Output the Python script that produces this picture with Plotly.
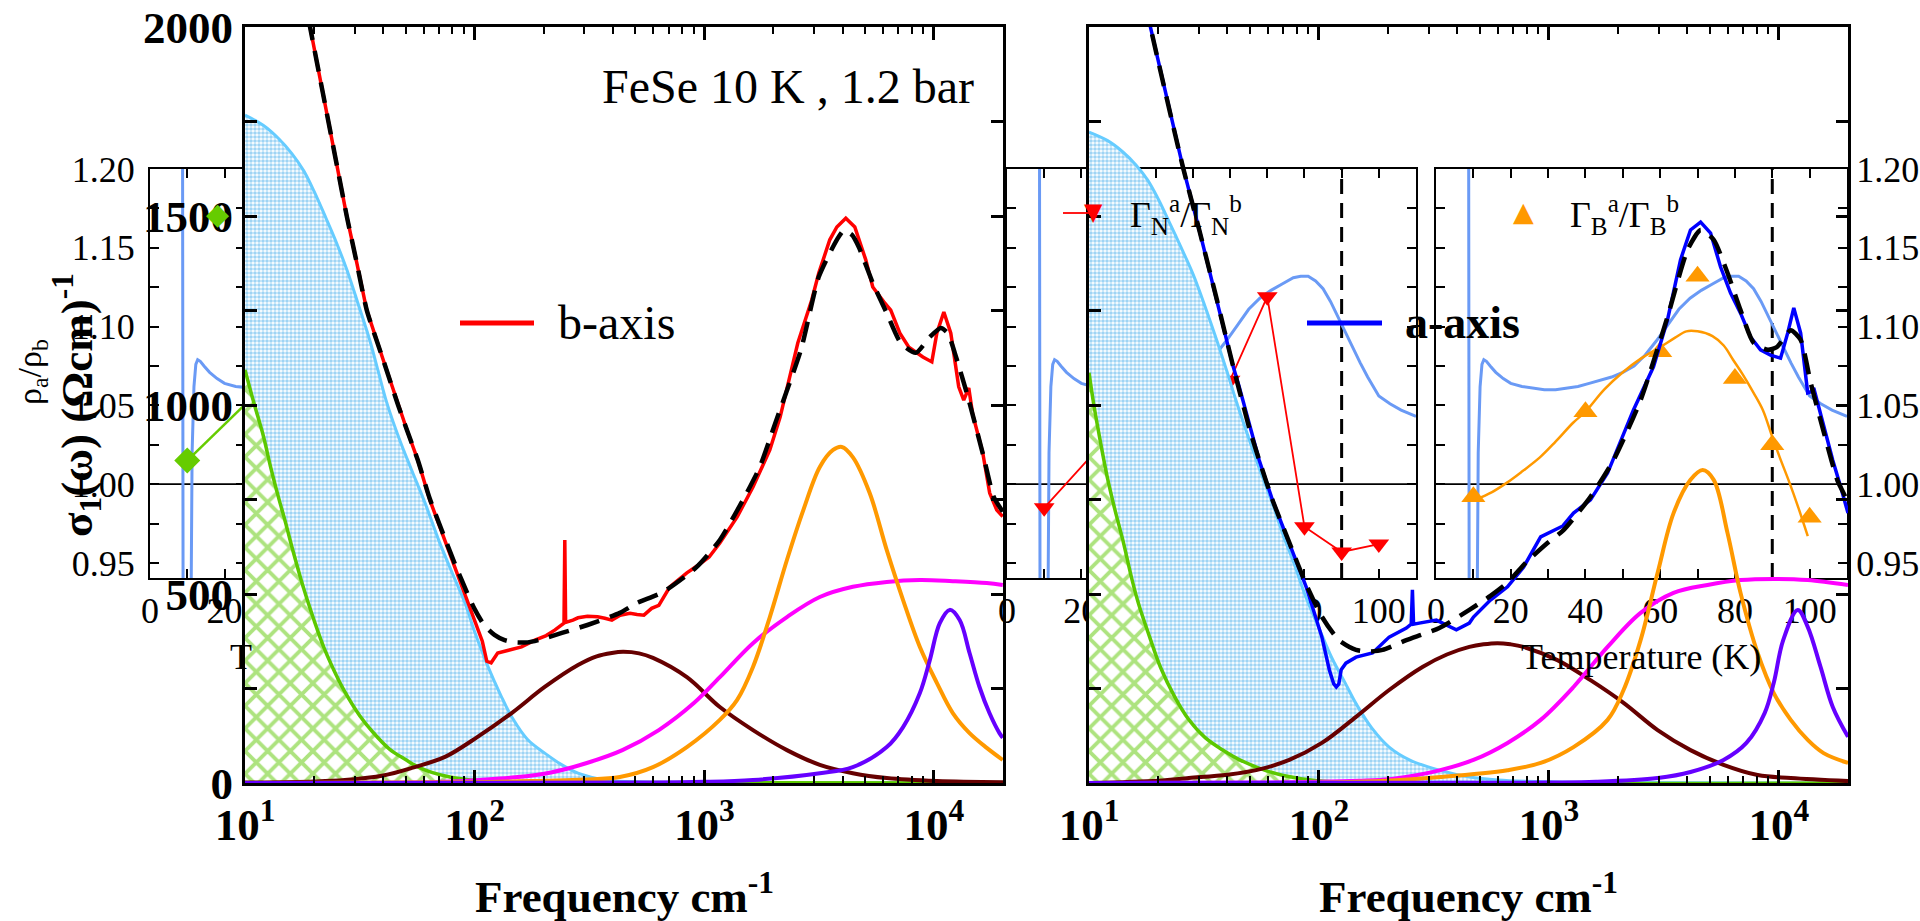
import plotly.graph_objects as go

W, H = 1920, 921
SERIF = "Liberation Serif"

# ---------------- data: left panel (b-axis) ----------------
b_axis_data = [(17.8,2103),(19.2,2000),(22,1815),(25,1641),(27.8,1497),(30.5,1383),(33.9,1251),(40,1119),(46.4,1000),(51,930),(56.6,854),(63.8,749),(72,663),(82,570),(92.5,484),(100,428),(108,375),(113,322),(118,318),(126,344),(145,352),(160,360),(183,378),(205,390),(224,405),(240,418),(245,423),(247,643),(249,425),(268,431),(282,437),(310,441),(343,440),(369,436),(396,431),(430,444),(475,449),(510,446),(546,444),(590,462),(634,470),(708,519),(840,556),(950,578),(1050,598),(1169,635),(1391,704),(1630,783),(1930,881),(2140,968),(2555,1164),(2938,1278),(3153,1349),(3521,1437),(3779,1471),(4134,1494),(4525,1471),(5051,1384),(5418,1312),(6053,1273),(6489,1251),(7110,1190),(7780,1153),(8955,1127),(9796,1114),(10300,1190),(11050,1246),(11850,1190),(12830,1048),(13490,1013),(14190,1045),(14760,975),(15220,942),(16330,873),(17500,767),(18790,722),(19950,705)]
b_axis_fit = [(17.8,2103),(19.2,2000),(22,1815),(25,1641),(27.8,1497),(30.5,1383),(33.9,1251),(40,1119),(46.4,1000),(51,930),(56.6,854),(63.8,752),(72,668),(82,580),(92.5,505),(100,460),(110,418),(122,392),(135,378),(150,372),(170,372),(195,380),(240,397),(310,418),(429,450),(508,476),(660,505),(925,571),(1169,643),(1475,749),(1745,836),(2060,960),(2636,1146),(3153,1339),(3779,1437),(4055,1462),(4400,1450),(4709,1418),(5418,1323),(6235,1243),(7176,1164),(8340,1138),(9600,1180),(10720,1204),(11500,1190),(12330,1138),(14190,1013),(16480,862),(18220,757),(19950,718)]
b_drude_narrow = [(10,1093),(11,1000),(12,920),(13,830),(14,755),(15,690),(16,625),(18,515),(20,430),(22,360),(24.1,305),(27,245),(31.6,178),(36,135),(42.7,89),(50,62),(56,44),(65,28),(78,16),(100,7),(130,3),(200,1),(20000,0)]
b_drude_broad = [(10,1767),(12,1740),(14,1705),(16,1665),(18,1620),(20,1565),(22.5,1495),(25,1430),(27.8,1357),(31,1270),(35,1170),(38,1090),(41.5,1005),(47,910),(53,830),(60.8,741),(70,640),(80,555),(90.8,476),(100,400),(114,310),(130,232),(145,175),(170,115),(202,79),(240,48),(282,26),(340,12),(400,5),(600,2),(1000,1),(20000,0)]
b_brown = [(10,1),(20,4),(27.2,8),(40,20),(53.3,40),(74.3,69),(103,122),(145,185),(202,254),(282,312),(340,335),(396,344),(443,347),(520,343),(598,331),(840,280),(1169,201),(1630,140),(2291,87),(3186,48),(4434,26),(6235,13),(10300,5),(20000,2)]
b_magenta = [(10,0),(50,1),(80,4),(105,8),(150,15),(215,28),(308,53),(440,87),(634,140),(904,212),(1169,280),(1630,370),(2291,439),(3186,492),(4434,519),(6235,532),(8690,537),(12090,534),(16990,529),(19950,524)]
b_orange = [(10,0),(100,2),(200,6),(300,9),(429,16),(598,42),(840,95),(1169,167),(1391,220),(1630,307),(1930,439),(2291,590),(2700,722),(3186,836),(3640,881),(3972,889),(4434,862),(5252,767),(6235,616),(7343,484),(8690,360),(10300,265),(12090,185),(14300,132),(16990,93),(19950,61)]
b_purple = [(10,0),(500,1),(1000,3),(1630,8),(3186,26),(4434,42),(6235,95),(7343,148),(8690,238),(9600,325),(10610,423),(11720,458),(12950,431),(14300,344),(15800,254),(17460,185),(19300,132),(19950,120)]

# ---------------- data: right panel (a-axis) ----------------
a_axis_data = [(17.5,2063),(18.5,2000),(21,1853),(25.6,1630),(30.4,1455),(33.3,1357),(36,1278),(42.4,1101),(45,1048),(55,854),(62.7,750),(75,630),(88,519),(103,386),(111,299),(116,262),(119,254),(122,262),(125,300),(131,317),(145,333),(171,344),(202,386),(240,410),(252,420),(255,511),(258,420),(273,423),(324,431),(396,405),(451,423),(470,439),(557,484),(661,519),(776,571),(921,651),(1048,669),(1150,680),(1280,714),(1517,749),(1800,820),(2113,926),(2333,987),(2851,1101),(3280,1225),(3737,1384),(4130,1463),(4571,1484),(5051,1455),(5582,1365),(6169,1296),(6818,1243),(7535,1180),(8328,1146),(9204,1132),(10180,1124),(10930,1190),(11620,1257),(12450,1190),(13360,1032),(13800,1035),(14190,1045),(15660,942),(17170,854),(18590,783),(20000,714)]
a_axis_fit = [(17.5,2063),(18.5,2000),(21,1853),(25.6,1630),(30.4,1455),(36,1278),(42.4,1101),(50,935),(55,854),(62.7,750),(75,630),(88,525),(103,440),(122,378),(145,352),(165,348),(189,352),(240,378),(334,410),(451,458),(557,495),(661,530),(800,585),(986,635),(1158,669),(1517,757),(1910,854),(2506,1013),(3280,1233),(4009,1410),(4571,1463),(5212,1437),(5986,1349),(6818,1251),(7780,1164),(8955,1146),(9800,1153),(11270,1198),(12450,1172),(13770,1058),(15660,930),(17000,850),(18000,800),(19200,765),(20000,740)]
a_drude_narrow = [(10,1085),(10.5,1000),(11,930),(12,810),(13,720),(14,645),(15.5,530),(16.5,470),(18.5,380),(20.5,305),(23.5,230),(27,170),(32,120),(38,88),(45,62),(58,34),(70,20),(98,6),(150,1),(20000,0)]
a_drude_broad = [(10,1722),(12,1700),(14,1670),(16,1635),(18,1595),(20,1545),(22.5,1480),(25,1420),(28.4,1345),(32,1260),(36,1170),(40,1085),(43.7,1010),(50,905),(56,820),(62.7,741),(70,655),(78,580),(88,490),(100,410),(114,330),(130,265),(145,210),(170,145),(202,95),(250,60),(334,34),(451,16),(600,8),(1000,3),(2000,1),(20000,0)]
a_brown = [(10,0),(20,6),(27.2,13),(40,22),(53.3,34),(74.3,61),(103,106),(145,175),(202,246),(282,307),(360,340),(451,360),(520,367),(598,370),(680,367),(776,360),(1089,325),(1517,272),(2113,212),(2972,140),(4130,87),(5750,48),(8090,21),(11270,13),(20000,5)]
a_magenta = [(10,0),(60,1),(100,3),(150,6),(202,10),(250,18),(337,34),(470,61),(661,106),(921,167),(1280,254),(1800,360),(2506,450),(3486,503),(4898,524),(6818,537),(9510,540),(13360,537),(20000,524)]
a_orange = [(10,0),(150,3),(337,16),(661,34),(921,53),(1280,95),(1800,167),(2113,246),(2506,378),(2972,556),(3486,714),(4130,802),(4667,828),(5212,802),(5986,661),(6818,503),(8090,344),(9510,238),(11270,167),(13360,114),(15660,79),(20000,53)]
a_purple = [(10,0),(1000,1),(1607,3),(2972,13),(4130,29),(5750,61),(7230,106),(8680,185),(9510,265),(10450,378),(12090,458),(13360,413),(15190,307),(17170,201),(20000,122)]

# ---------------- data: insets (ratios vs temperature) ----------------
T_rho = [8.7,8.9,10.9,11.3,11.8,12.3,12.8,13.5,14.5,16,18,20,23,26,29,32,35,38,41,44,47,50,53,56,59,62,65,68,71,74,77,79,81,83,85,87,89,91,93,95,97,100,103,106,110]
rho_ratio = [1.30,0.88,0.88,1.02,1.062,1.076,1.079,1.078,1.075,1.071,1.067,1.064,1.062,1.061,1.060,1.060,1.061,1.062,1.064,1.066,1.068,1.071,1.075,1.082,1.091,1.101,1.111,1.118,1.123,1.127,1.131,1.132,1.132,1.129,1.124,1.116,1.106,1.096,1.086,1.077,1.068,1.056,1.051,1.047,1.043]
T_gamma = [10, 40, 60, 70, 80, 90, 100]
gammaN_ratio = [0.985, 1.063, 1.066, 1.119, 0.973, 0.957, 0.962]
gammaB_ratio = [0.992, 1.046, 1.084, 1.132, 1.067, 1.025, 0.979]
T_gammaB_fit = [10.4,15,19,23,27.8,32,36.7,40,45,50,55,60,64,67,70,74,77,79.5,82,85,87.5,90,92,94.6,97,99.5]
gammaB_fit = [0.990,0.995,1.001,1.008,1.017,1.027,1.039,1.046,1.060,1.071,1.080,1.087,1.093,1.097,1.097,1.094,1.088,1.079,1.070,1.058,1.047,1.030,1.017,1.001,0.985,0.967]
T_green = [10, 40]
green_ratio = [1.015, 1.084]
T_nematic = 90
ratio_unity = 1.0

freq_major = [10, 100, 1000, 10000]
freq_major_text = ["10<sup>1</sup>", "10<sup>2</sup>", "10<sup>3</sup>", "10<sup>4</sup>"]
freq_minor = [m * d for d in (10, 100, 1000) for m in range(2, 10)]
sigma_ticks = [0, 250, 500, 750, 1000, 1250, 1500, 1750, 2000]
ratio_ticks = [0.95, 0.975, 1.0, 1.025, 1.05, 1.075, 1.1, 1.125, 1.15, 1.175, 1.2]
temp_ticks = list(range(0, 111, 10))


def px(x):
    return x / W


def py(y):
    return 1 - y / H


def xy(pairs):
    return [p[0] for p in pairs], [p[1] for p in pairs]


fig = go.Figure()

# ---------------- inset traces ----------------
RHO_COL = "#6a9af5"
for ax in ("", "2", "3"):
    fig.add_trace(go.Scatter(x=T_rho, y=rho_ratio, mode="lines",
                             line=dict(color=RHO_COL, width=3),
                             xaxis="x" + ax, yaxis="y" + ax))
fig.add_trace(go.Scatter(x=T_green, y=green_ratio, mode="lines+markers",
                         line=dict(color="#66cc00", width=2.5),
                         marker=dict(symbol="diamond", size=20, color="#66cc00"),
                         xaxis="x", yaxis="y"))
fig.add_trace(go.Scatter(x=T_gamma, y=gammaN_ratio, mode="lines+markers",
                         line=dict(color="#ff0000", width=1.8),
                         marker=dict(symbol="triangle-down", size=18, color="#ff0000"),
                         xaxis="x2", yaxis="y2"))
fig.add_trace(go.Scatter(x=T_gammaB_fit, y=gammaB_fit, mode="lines",
                         line=dict(color="#ff9900", width=2.5, shape="spline"),
                         xaxis="x3", yaxis="y3"))
fig.add_trace(go.Scatter(x=T_gamma, y=gammaB_ratio, mode="markers",
                         marker=dict(symbol="triangle-up", size=21, color="#ff9900"),
                         xaxis="x3", yaxis="y3"))


# ---------------- main panels ----------------
def add_panel(xa, ya, narrow, broad, comps, data, data_col, fit):
    fx, fy = xy(broad)
    fig.add_trace(go.Scatter(x=fx, y=fy, mode="lines", line=dict(color="#66ccff", width=3, shape="spline"),
                             fill="tozeroy", fillcolor="white",
                             fillpattern=dict(shape=".", fgcolor="#3fa9ea", bgcolor="white", size=4, solidity=0.65),
                             xaxis=xa, yaxis=ya))
    fx, fy = xy(narrow)
    fig.add_trace(go.Scatter(x=fx, y=fy, mode="lines", line=dict(color="#5cc800", width=3.5, shape="spline"),
                             fill="tozeroy", fillcolor="white",
                             fillpattern=dict(shape="x", fgcolor="#5cc800", bgcolor="white", size=16, solidity=0.42),
                             xaxis=xa, yaxis=ya))
    for pairs, col in comps:
        cx, cy = xy(pairs)
        fig.add_trace(go.Scatter(x=cx, y=cy, mode="lines", line=dict(color=col, width=4, shape="spline"),
                                 xaxis=xa, yaxis=ya))
    dx, dy = xy(data)
    fig.add_trace(go.Scatter(x=dx, y=dy, mode="lines", line=dict(color=data_col, width=3.5),
                             xaxis=xa, yaxis=ya))
    kx, ky = xy(fit)
    fig.add_trace(go.Scatter(x=kx, y=ky, mode="lines",
                             line=dict(color="black", width=4.5, dash="21px,11px", shape="spline", smoothing=0.6),
                             xaxis=xa, yaxis=ya))


add_panel("x4", "y4", b_drude_narrow, b_drude_broad,
          [(b_brown, "#660000"), (b_magenta, "#ff00ff"), (b_orange, "#ff9900"), (b_purple, "#6600ff")],
          b_axis_data, "#ff0000", b_axis_fit)
add_panel("x5", "y5", a_drude_narrow, a_drude_broad,
          [(a_brown, "#660000"), (a_magenta, "#ff00ff"), (a_orange, "#ff9900"), (a_purple, "#6600ff")],
          a_axis_data, "#0000ff", a_axis_fit)

fig.update_traces(showlegend=False, hoverinfo="skip")

# ---------------- axes ----------------
MAIN_Y_DOM = [py(783), py(27)]
INSET_Y_DOM = [py(578), py(169)]


def main_x(dom, anchor):
    return dict(type="log", range=[1, 4.301], domain=dom, anchor=anchor, automargin=False,
                showline=True, linecolor="black", linewidth=3, mirror="allticks",
                ticks="inside", ticklen=13, tickwidth=2.5, tickcolor="black",
                tickmode="array", tickvals=freq_major, ticktext=freq_major_text,
                tickfont=dict(family=SERIF, size=45, color="black", weight="bold"),
                ticklabelstandoff=0,
                minor=dict(tickmode="array", tickvals=freq_minor, ticks="inside",
                           ticklen=7, tickwidth=2, tickcolor="black"),
                showgrid=False, zeroline=False)


def main_y(anchor, labels):
    return dict(range=[0, 2000], domain=MAIN_Y_DOM, anchor=anchor, automargin=False,
                showline=True, linecolor="black", linewidth=3, mirror="allticks",
                ticks="inside", ticklen=12, tickwidth=2.5, tickcolor="black",
                tickmode="array", tickvals=sigma_ticks,
                ticktext=[str(v) if v % 500 == 0 else "" for v in sigma_ticks],
                showticklabels=labels, ticklabelstandoff=0,
                tickfont=dict(family=SERIF, size=45, color="black", weight="bold"),
                showgrid=False, zeroline=False)


def inset_x(dom, anchor, rng):
    return dict(range=rng, domain=dom, anchor=anchor, automargin=False,
                showline=True, linecolor="black", linewidth=2, mirror="allticks",
                ticks="inside", ticklen=9, tickwidth=2, tickcolor="black",
                tickmode="array", tickvals=temp_ticks,
                ticktext=[str(v) if v % 20 == 0 else "" for v in temp_ticks],
                tickfont=dict(family=SERIF, size=36, color="black"), ticklabelstandoff=0,
                showgrid=False, zeroline=False)


def inset_y(anchor, side, labels, standoff):
    return dict(range=[0.9405, 1.2], domain=INSET_Y_DOM, anchor=anchor, side=side, automargin=False,
                showline=True, linecolor="black", linewidth=2, mirror="allticks",
                ticks="inside", ticklen=9, tickwidth=2, tickcolor="black",
                tickmode="array", tickvals=ratio_ticks,
                ticktext=["%.2f" % v if round(v * 1000) % 50 == 0 else "" for v in ratio_ticks],
                showticklabels=labels, ticklabelstandoff=standoff,
                tickfont=dict(family=SERIF, size=36, color="black"),
                showgrid=False, zeroline=False)


layout = dict(
    width=W, height=H, margin=dict(l=0, r=0, t=0, b=0, pad=0, autoexpand=False), autosize=False,
    paper_bgcolor="white", plot_bgcolor="rgba(0,0,0,0)", showlegend=False,
    font=dict(family=SERIF, color="black"),
    xaxis=inset_x([px(150), px(245)], "y", [0, 25.5]),
    yaxis=inset_y("x", "left", True, 6),
    xaxis2=inset_x([px(1007), px(1416)], "y2", [0, 110]),
    yaxis2=inset_y("x2", "left", False, 0),
    xaxis3=inset_x([px(1436), px(1847)], "y3", [0, 110]),
    yaxis3=inset_y("x3", "right", True, 0),
    xaxis4=main_x([px(245), px(1003)], "y4"),
    yaxis4=main_y("x4", True),
    xaxis5=main_x([px(1089), px(1848)], "y5"),
    yaxis5=main_y("x5", False),
)
fig.update_layout(**layout)

# ---------------- reference lines in insets ----------------
for ax in ("", "2", "3"):
    fig.add_shape(type="line", xref="x%s domain" % ax, yref="y" + ax, x0=0, x1=1,
                  y0=ratio_unity, y1=ratio_unity, line=dict(color="black", width=1.8), layer="below")
for ax in ("2", "3"):
    fig.add_shape(type="line", xref="x" + ax, yref="y%s domain" % ax, x0=T_nematic, x1=T_nematic,
                  y0=0, y1=1, line=dict(color="black", width=3, dash="15px,9px"), layer="below")

# ---------------- legends & labels ----------------
fig.add_shape(type="line", xref="paper", yref="paper", x0=px(460), x1=px(534), y0=py(323), y1=py(323),
              line=dict(color="#ff0000", width=5))
fig.add_shape(type="line", xref="paper", yref="paper", x0=px(1307), x1=px(1382), y0=py(323), y1=py(323),
              line=dict(color="#0000ff", width=5))
fig.add_shape(type="line", xref="paper", yref="paper", x0=px(1063), x1=px(1093), y0=py(213), y1=py(213),
              line=dict(color="#ff0000", width=1.8))


def ann(text, x, y, size, xanchor="left", yanchor="middle", angle=0, color="black", family=SERIF):
    fig.add_annotation(text=text, x=px(x), y=py(y), xref="paper", yref="paper",
                       xanchor=xanchor, yanchor=yanchor, showarrow=False, textangle=angle,
                       font=dict(family=family, size=size, color=color))


ann("FeSe 10 K , 1.2 bar", 976, 86, 48, xanchor="right")
ann("b-axis", 556, 323, 48)
ann("<b>a-axis</b>", 1403, 323, 46)
ann("<b>Frequency cm<sup>-1</sup></b>", 624, 893, 45, xanchor="center")
ann("<b>Frequency cm<sup>-1</sup></b>", 1468, 893, 45, xanchor="center")
ann("<b>σ<sub>1</sub>(ω) (Ωcm)<sup>-1</sup></b>", 76, 405, 45, xanchor="center", angle=-90)
ann("ρ<sub>a</sub>/ρ<sub>b</sub>", 32, 372, 34, xanchor="center", angle=-90)
ann("Temperature (K)", 1641, 657, 36, xanchor="center")
ann("T", 228, 657, 36)
ann("Γ<sub>N</sub><sup>a</sup>/Γ<sub>N</sub><sup>b</sup>", 1128, 215, 36)
ann("Γ<sub>B</sub><sup>a</sup>/Γ<sub>B</sub><sup>b</sup>", 1568, 215, 36)
ann("▼", 1093, 212, 24, xanchor="center", color="#ff0000", family="DejaVu Sans")
ann("▲", 1523, 211, 27, xanchor="center", color="#ff9900", family="DejaVu Sans")
ann("◆", 217, 213, 30, xanchor="center", color="#66cc00", family="DejaVu Sans")

fig.write_html("out.html", config={"displayModeBar": False},
               post_script="document.body.style.margin='0';document.body.style.overflow='hidden';")
